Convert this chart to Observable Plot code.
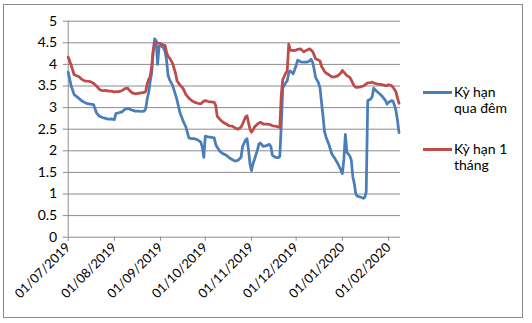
<!DOCTYPE html>
<html><head><meta charset="utf-8">
<script src="https://cdn.jsdelivr.net/npm/d3@7"></script>
<script src="https://cdn.jsdelivr.net/npm/@observablehq/plot@0.6"></script>
<style>
html,body{margin:0;padding:0;background:#fff;}
#wrap{position:relative;width:532px;height:323px;overflow:hidden;font-family:Lato,"Open Sans",sans-serif;color:#000;}
#frame{position:absolute;left:3px;top:4px;width:520px;height:314px;border:1px solid #8a8a8a;box-sizing:border-box;}
#chart{position:absolute;left:0;top:0;}
.item{position:absolute;left:423px;}
.sw{position:absolute;left:0;width:29px;height:3px;}
.txt{position:absolute;left:31px;top:0;font-size:14px;line-height:16px;white-space:nowrap;}
</style></head><body>
<div id="wrap"><div id="frame"></div><div id="chart"></div><div id="legend"></div></div>
<script>
const dates = ["2019-07-01","2019-07-03","2019-07-05","2019-07-08","2019-07-10","2019-07-12","2019-07-14","2019-07-16","2019-07-18","2019-07-20","2019-07-22","2019-07-24","2019-07-26","2019-07-28","2019-07-30",
"2019-08-01","2019-08-02","2019-08-04","2019-08-06","2019-08-08","2019-08-10","2019-08-11","2019-08-13","2019-08-15","2019-08-17","2019-08-19","2019-08-21","2019-08-22","2019-08-23","2019-08-24","2019-08-25","2019-08-26","2019-08-27","2019-08-28","2019-08-29","2019-08-30","2019-08-31",
"2019-09-01","2019-09-03","2019-09-04","2019-09-05","2019-09-06","2019-09-07","2019-09-09","2019-09-11","2019-09-12","2019-09-14","2019-09-16","2019-09-18","2019-09-20","2019-09-22","2019-09-24","2019-09-26","2019-09-28","2019-09-29","2019-09-30",
"2019-10-01","2019-10-03","2019-10-05","2019-10-07","2019-10-08","2019-10-09","2019-10-11","2019-10-13","2019-10-15","2019-10-17","2019-10-19","2019-10-21","2019-10-23","2019-10-25","2019-10-26","2019-10-28","2019-10-29","2019-10-30","2019-10-31",
"2019-11-01","2019-11-02","2019-11-03","2019-11-05","2019-11-06","2019-11-07","2019-11-09","2019-11-11","2019-11-13","2019-11-14","2019-11-15","2019-11-17","2019-11-19","2019-11-20","2019-11-21","2019-11-22","2019-11-24","2019-11-25","2019-11-26","2019-11-27","2019-11-29",
"2019-12-01","2019-12-02","2019-12-04","2019-12-06","2019-12-08","2019-12-10","2019-12-11","2019-12-12","2019-12-13","2019-12-14","2019-12-16","2019-12-17","2019-12-18","2019-12-19","2019-12-20","2019-12-21","2019-12-23","2019-12-25","2019-12-27","2019-12-29","2019-12-31",
"2020-01-01","2020-01-02","2020-01-03","2020-01-04","2020-01-06","2020-01-07","2020-01-08","2020-01-09","2020-01-10","2020-01-11","2020-01-13","2020-01-15","2020-01-16","2020-01-17","2020-01-18","2020-01-20","2020-01-21","2020-01-22","2020-01-24","2020-01-26","2020-01-28","2020-01-30","2020-01-31",
"2020-02-01","2020-02-03","2020-02-04","2020-02-05","2020-02-06","2020-02-07","2020-02-08"];
const overnight = [3.82,3.50,3.30,3.22,3.16,3.12,3.09,3.08,3.07,2.88,2.80,2.77,2.75,2.73,2.74,
2.72,2.86,2.88,2.90,2.96,2.98,2.97,2.94,2.92,2.92,2.91,2.92,2.97,3.20,3.35,3.60,3.80,4.30,4.59,4.55,4.00,4.42,
4.44,4.38,4.30,4.10,3.75,3.65,3.52,3.30,3.18,2.88,2.70,2.55,2.30,2.28,2.28,2.25,2.20,2.08,1.85,
2.34,2.32,2.31,2.30,2.15,2.08,1.98,1.93,1.90,1.84,1.80,1.76,1.78,1.85,2.10,2.25,2.28,2.02,1.70,
1.54,1.70,1.80,2.02,2.16,2.18,2.10,2.12,2.15,2.10,1.90,1.85,1.84,1.87,2.60,3.45,3.58,3.62,3.80,3.85,3.78,
3.98,4.10,4.06,4.05,4.05,4.08,4.12,4.05,3.90,3.70,3.57,3.45,3.12,2.80,2.45,2.32,2.14,1.92,1.82,1.70,1.55,
1.47,1.80,2.38,1.97,1.88,1.78,1.40,1.24,1.00,0.95,0.93,0.90,0.92,1.05,3.16,3.20,3.25,3.45,3.38,3.32,3.25,3.16,3.08,
3.12,3.16,3.15,3.05,2.92,2.70,2.42];
const oneMonth = [4.17,3.98,3.76,3.72,3.66,3.62,3.61,3.60,3.56,3.50,3.42,3.39,3.40,3.38,3.38,
3.36,3.37,3.37,3.39,3.44,3.45,3.40,3.34,3.32,3.33,3.34,3.35,3.37,3.55,3.65,3.72,3.94,4.30,4.48,4.50,4.50,4.49,
4.48,4.45,4.44,4.28,4.18,4.15,4.03,3.80,3.62,3.52,3.45,3.30,3.22,3.16,3.12,3.10,3.09,3.12,3.15,
3.16,3.14,3.13,3.12,3.05,2.80,2.72,2.66,2.62,2.58,2.57,2.53,2.50,2.55,2.62,2.78,2.81,2.65,2.50,
2.43,2.48,2.55,2.62,2.64,2.66,2.62,2.62,2.61,2.60,2.58,2.57,2.55,2.54,3.30,3.65,3.80,3.85,4.47,4.33,4.32,
4.33,4.35,4.36,4.29,4.33,4.36,4.33,4.30,4.22,4.13,4.10,4.08,3.95,3.90,3.84,3.80,3.76,3.71,3.71,3.74,3.80,
3.86,3.82,3.78,3.74,3.70,3.64,3.56,3.50,3.47,3.47,3.48,3.50,3.52,3.55,3.57,3.58,3.59,3.57,3.55,3.54,3.53,3.51,3.51,
3.53,3.51,3.47,3.42,3.36,3.22,3.10];
const seriesNames = ["Kỳ hạn qua đêm", "Kỳ hạn 1 tháng"];
const seriesColors = ["#4A7EBB", "#BE4B48"];
const legendLines = [["Kỳ hạn", "qua đêm"], ["Kỳ hạn 1", "tháng"]];
const yTicks = [0, 0.5, 1, 1.5, 2, 2.5, 3, 3.5, 4, 4.5, 5];
const xTickDates = ["2019-07-01","2019-08-01","2019-09-01","2019-10-01","2019-11-01","2019-12-01","2020-01-01","2020-02-01"];
const xTickLabels = ["01/07/2019","01/08/2019","01/09/2019","01/10/2019","01/11/2019","01/12/2019","01/01/2020","01/02/2020"];
const xDomain = ["2019-07-01", "2020-02-09"];

const rows = [];
[overnight, oneMonth].forEach((vals, s) => {
  dates.forEach((d, i) => rows.push({date: new Date(d), value: vals[i], series: seriesNames[s]}));
});
const tickDates = xTickDates.map(d => new Date(d));
const labelOf = d => xTickLabels[xTickDates.indexOf(d.toISOString().slice(0, 10))];
const grid = "#8c8c8c";

const chart = Plot.plot({
  width: 532, height: 323,
  marginLeft: 67.7, marginRight: 132, marginTop: 20.7, marginBottom: 86.3,
  style: {fontFamily: "Lato, 'Open Sans', sans-serif", fontSize: "13px", color: "#000", background: "transparent", overflow: "visible"},
  x: {type: "utc", domain: xDomain.map(d => new Date(d))},
  y: {domain: [0, 5]},
  color: {domain: seriesNames, range: seriesColors},
  marks: [
    Plot.ruleY(yTicks, {stroke: grid, strokeWidth: 1}),
    Plot.ruleX([tickDates[0]], {y1: 0, y2: 5, stroke: grid, strokeWidth: 1}),
    Plot.axisY({ticks: yTicks, tickFormat: d => String(d), tickSize: 5, tickPadding: 6, stroke: grid, fontSize: 14, label: null}),
    Plot.axisX({ticks: tickDates, tickFormat: labelOf, tickRotate: -45, tickSize: 4, tickPadding: 4, stroke: grid, fontSize: 13, label: null}),
    Plot.line(rows, {x: "date", y: "value", z: "series", stroke: "series", strokeWidth: 2.75, strokeLinejoin: "round"})
  ]
});
document.getElementById("chart").appendChild(chart);

const legend = document.getElementById("legend");
const legendTops = [84, 141];
seriesNames.forEach((name, i) => {
  const item = document.createElement("div");
  item.className = "item";
  item.style.top = legendTops[i] + "px";
  item.innerHTML = `<div class="sw" style="top:7px;background:${seriesColors[i]}"></div><div class="txt">${legendLines[i].join("<br>")}</div>`;
  legend.appendChild(item);
});
</script>
</body></html>
